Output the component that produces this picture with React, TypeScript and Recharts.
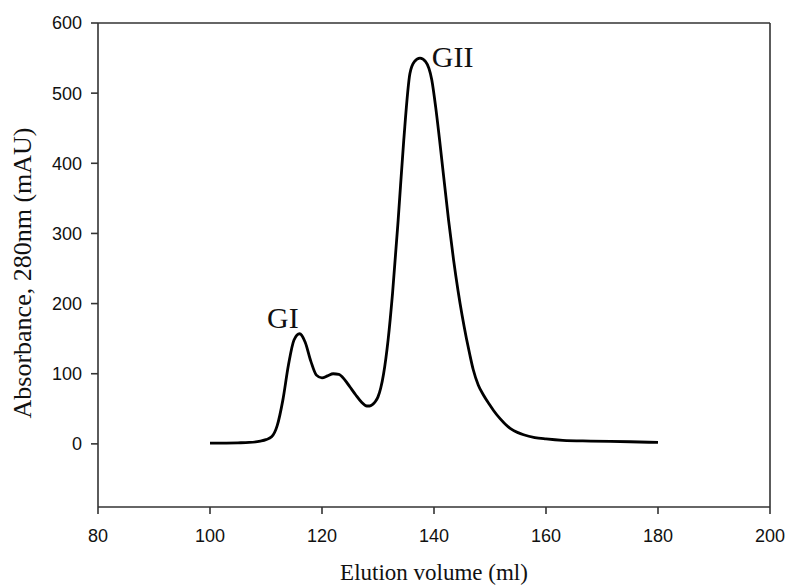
import React from 'react';
import { LineChart, Line, XAxis, YAxis, ReferenceLine, ReferenceDot } from 'recharts';

const elutionVolume = [
  100, 105, 107, 109, 110, 111, 112, 113, 114, 115, 116, 117, 118, 119, 120, 121, 122, 123, 124, 125,
  126, 127, 128, 128.5, 129, 129.5, 130, 130.5, 131, 131.8, 132.6, 133.6, 134.6, 135.7, 136.5, 137.5, 138.5,
  139.6, 140.3, 141, 142.6, 143.5, 144.3, 145, 145.8, 146.4, 147, 147.9, 148.8, 150, 150.6, 151.8, 153.6,
  155, 156, 158, 160, 163, 168, 175, 180,
];
const absorbance = [
  1, 1.5, 2, 4, 6, 10, 26, 62, 112, 148, 157, 145, 118, 98, 94, 97, 100, 99, 92, 81,
  70, 60, 54, 54, 56, 60, 67, 80, 100, 148, 215, 319, 433, 528, 545, 550, 545,
  519, 480, 433, 319, 262, 218, 184, 150, 127, 106, 84, 70, 55, 48, 36, 22,
  16, 13, 9, 7, 5, 4, 3, 2,
];
const xTicks = [80, 100, 120, 140, 160, 180, 200];
const yTicks = [0, 100, 200, 300, 400, 500, 600];
const peakLabels = [
  { name: 'GI', x: 110.2, y: 165 },
  { name: 'GII', x: 139.6, y: 537 },
];

const data = elutionVolume.map((x, i) => ({ x, y: absorbance[i] }));

const axisColor = '#333';
const tickFont = { fontFamily: '"Liberation Sans", Arial, sans-serif', fontSize: 18, fill: '#111' };
const serif = '"Liberation Serif", "Times New Roman", serif';

export default function App() {
  return (
    <div style={{ position: 'absolute', left: 0, top: 0, width: 787, height: 587, background: '#fff' }}>
      <LineChart width={787} height={587} data={data} margin={{ top: 23, right: 17, bottom: 0, left: 0 }}>
        <XAxis
          dataKey="x"
          type="number"
          domain={[80, 200]}
          ticks={xTicks}
          height={80}
          tickSize={7}
          tickMargin={15}
          tick={tickFont}
          stroke={axisColor}
          strokeWidth={1.6}
          label={{
            content: () => (
              <text x={434} y={580} textAnchor="middle" fontFamily={serif} fontSize={23} fill="#111">
                Elution volume (ml)
              </text>
            ),
          }}
        />
        <YAxis
          type="number"
          domain={[-90, 600]}
          ticks={yTicks}
          width={98}
          tickSize={7}
          tickMargin={9}
          tick={tickFont}
          stroke={axisColor}
          strokeWidth={1.6}
          label={{
            content: () => (
              <text
                x={31}
                y={273}
                transform="rotate(-90, 31, 273)"
                textAnchor="middle"
                fontFamily={serif}
                fontSize={26}
                fill="#111"
              >
                Absorbance, 280nm (mAU)
              </text>
            ),
          }}
        />
        <ReferenceLine y={600} stroke={axisColor} strokeWidth={1.6} />
        <ReferenceLine x={200} stroke={axisColor} strokeWidth={1.6} />
        <Line
          type="monotone"
          dataKey="y"
          stroke="#000"
          strokeWidth={2.8}
          dot={false}
          isAnimationActive={false}
        />
        {peakLabels.map((p) => (
          <ReferenceDot
            key={p.name}
            x={p.x}
            y={p.y}
            r={0}
            shape={(props: any) => (
              <text x={props.cx} y={props.cy} fontFamily={serif} fontSize={30} fill="#111">
                {p.name}
              </text>
            )}
          />
        ))}
      </LineChart>
    </div>
  );
}
